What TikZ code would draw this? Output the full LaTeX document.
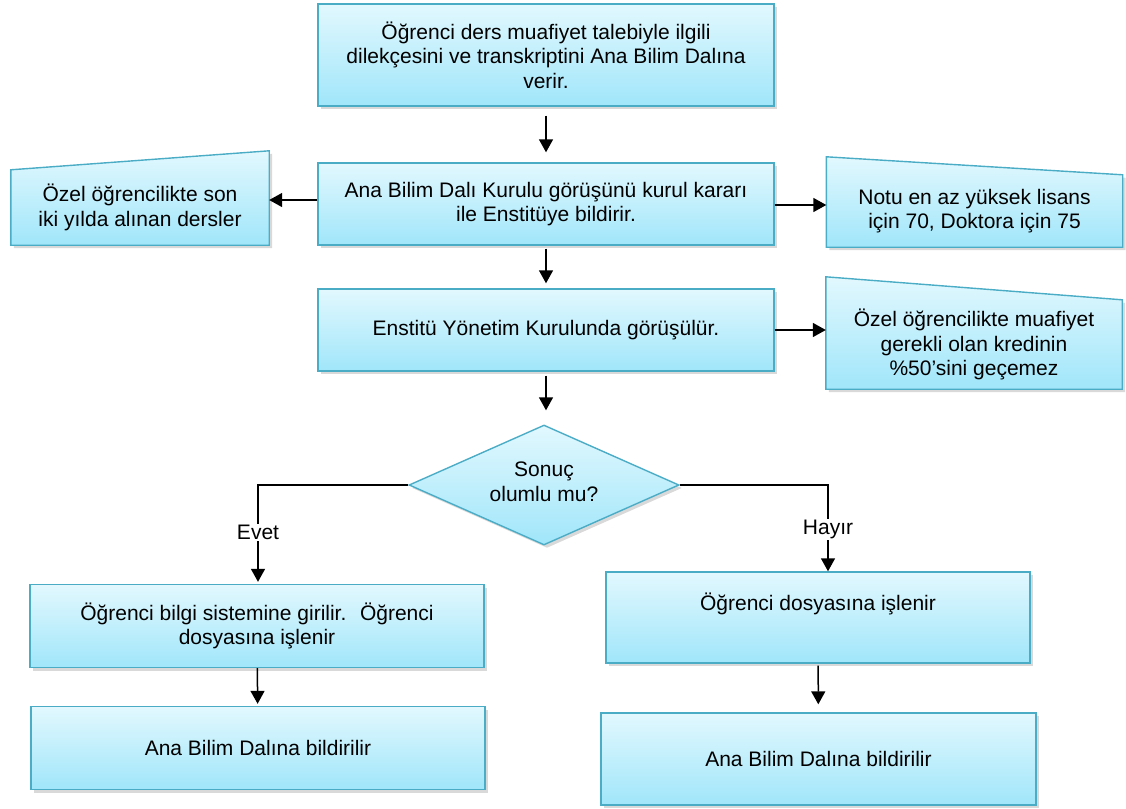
\documentclass[tikz,border=0pt]{standalone}
\usepackage{fontspec}
\setmainfont{Liberation Sans}
\usetikzlibrary{shapes.geometric,arrows.meta,shadows,backgrounds}
\definecolor{boxedge}{RGB}{75,172,198}
\definecolor{boxtop}{RGB}{226,248,254}
\definecolor{boxbot}{RGB}{160,230,250}

\begin{document}
\begin{tikzpicture}[
		x=1pt,y=-1pt,
		font=\fontsize{21}{24.5}\selectfont,
		cyanfill/.style={top color=boxtop,bottom color=boxbot,draw=boxedge,line width=1.4pt,
			drop shadow={shadow xshift=3pt,shadow yshift=-3pt,opacity=.3}},
		box/.style={cyanfill,rectangle,align=center,inner sep=0pt},
		note/.style={rectangle,align=center,inner sep=0pt},
		dec/.style={cyanfill,diamond,inner sep=0pt,minimum width=270,minimum height=120},
		arr/.style={-{Triangle[width=14pt,length=13pt]},line width=1.5pt},
		lbl/.style={fill=white,inner sep=1pt}
		]
		\useasboundingbox (0,0) rectangle (1126,808);

		\node[box,minimum width=456,minimum height=102] (apply) at (546,55)
			{Öğrenci ders muafiyet talebiyle ilgili\\dilekçesini ve transkriptini Ana Bilim Dalına\\verir.};
		\node[box,minimum width=456,minimum height=82] (board) at (546,204)
			{Ana Bilim Dalı Kurulu görüşünü kurul kararı\\ile Enstitüye bildirir.};
		\node[box,minimum width=456,minimum height=82] (inst) at (546,330)
			{Enstitü Yönetim Kurulunda görüşülür.};
		\node[dec,label={[align=center,yshift=3pt]center:{Sonuç\\olumlu mu?}}] (result) at (544,485) {};
		\node[box,minimum width=454,minimum height=83] (yes1) at (257,626)
			{Öğrenci bilgi sistemine girilir.~ Öğrenci\\dosyasına işlenir};
		\node[box,minimum width=454,minimum height=83] (yes2) at (258,748)
			{Ana Bilim Dalına bildirilir};
		\node[box,minimum width=424,minimum height=91] (no1) at (818,617.5)
			{Öğrenci dosyasına işlenir\\\strut};
		\node[box,minimum width=435,minimum height=92] (no2) at (818.5,759)
			{Ana Bilim Dalına bildirilir};

		% side notes with slanted tops
		\node[note,minimum width=258,minimum height=75] (exempt) at (140,207.5)
			{Özel öğrencilikte son\\iki yılda alınan dersler};
		\node[note,minimum width=296,minimum height=72] (grade) at (974.5,211)
			{Notu en az yüksek lisans\\için 70, Doktora için 75};
		\node[note,minimum width=296,minimum height=89] (credit) at (974,344.5)
			{Özel öğrencilikte muafiyet\\gerekli olan kredinin\\\%50’sini geçemez};
		\begin{scope}[on background layer]
			\draw[cyanfill] (exempt.south west) -- (exempt.south east) -- ([yshift=19pt]exempt.north east) -- (exempt.north west) -- cycle;
			\draw[cyanfill] (grade.south west) -- (grade.south east) -- (grade.north east) -- ([yshift=18pt]grade.north west) -- cycle;
			\draw[cyanfill] (credit.south west) -- (credit.south east) -- (credit.north east) -- ([yshift=23pt]credit.north west) -- cycle;
		\end{scope}

		\draw[arr,shorten <=9pt,shorten >=10pt] (apply) -- (board);
		\draw[arr,shorten <=3pt,shorten >=5pt] (board) -- (inst);
		\draw[arr,shorten <=4pt,shorten >=14pt] (inst.south) -- (inst.south |- result.north);
		\draw[arr] ([yshift=4pt]board.west) -- ([yshift=4pt]board.west -| exempt.east);
		\draw[arr] ([yshift=-1pt]board.east) -- ([yshift=-1pt]board.east -| grade.west);
		\draw[arr] (inst.east) -- (inst.east -| credit.west);
		\draw[arr,shorten >=2pt] (result.west) -| node[lbl,pos=.74] {Evet} ([xshift=1pt]yes1.north);
		\draw[arr] (result.east) -| node[lbl,pos=.76] {Hayır} ([xshift=10pt]no1.north);
		\draw[arr,shorten >=2pt] (yes1) -- (yes2);
		\draw[arr,shorten <=2pt,shorten >=8pt] (no1) -- (no2);
	\end{tikzpicture}
\end{document}
